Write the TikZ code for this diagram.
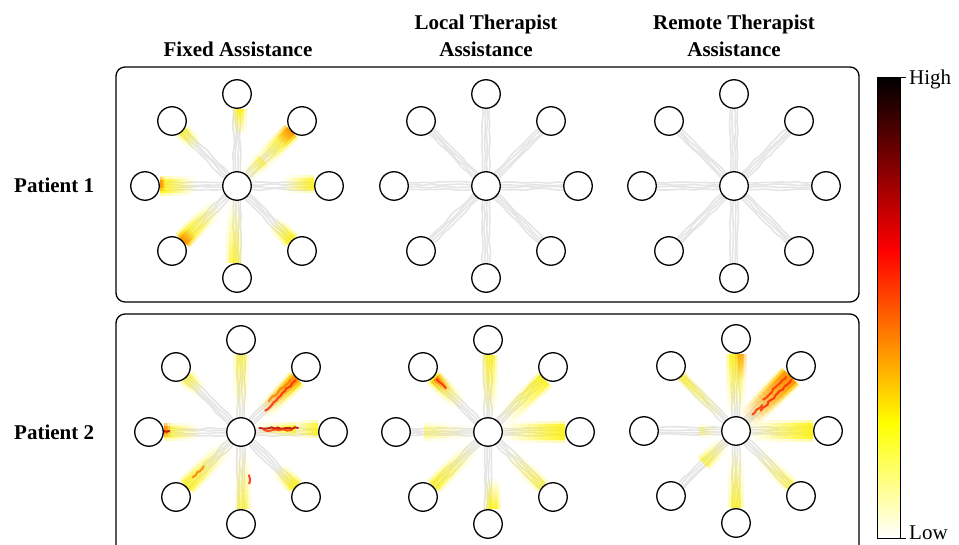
\documentclass[tikz,border=0pt]{standalone}
\usepackage{fontspec}
\setmainfont{Liberation Serif}
\usetikzlibrary{calc,backgrounds,decorations.pathmorphing}

\pgfdeclareverticalshading{hotbar}{100bp}{color(0bp)=(white); color(25bp)=(white); color(37.5bp)=(yellow); color(56.25bp)=(red); color(75bp)=(black); color(100bp)=(black)}

\tikzset{
  tgt/.style={circle, draw=black, line width=1.3pt, fill=white, minimum size=28.5pt, inner sep=0pt},
  panelbox/.style={draw=black, line width=1.3pt, rounded corners=9pt},
  traj/.style={draw=gray!20, line width=1.6pt, decorate, decoration={random steps, segment length=8pt, amplitude=1pt}, rounded corners=2pt},
  streak/.style={line width=2pt, draw opacity=0.85, decorate, decoration={random steps, segment length=3pt, amplitude=0.9pt}, line cap=round},
  ttl/.style={font=\bfseries\fontsize{21}{25}\selectfont, anchor=base, inner sep=0pt},
  lbl/.style={font=\fontsize{21}{25}\selectfont, anchor=base west, inner sep=0pt},
}

% panel of nine targets
\newcommand\mkpanel[3]{%
  \node[tgt] (#1c)  at (#2,#3) {};
  \node[tgt] (#1n)  at ($(#1c)+(0,-92)$) {};
  \node[tgt] (#1s)  at ($(#1c)+(0,92)$) {};
  \node[tgt] (#1e)  at ($(#1c)+(92,0)$) {};
  \node[tgt] (#1w)  at ($(#1c)+(-92,0)$) {};
  \node[tgt] (#1ne) at ($(#1c)+(65,-65)$) {};
  \node[tgt] (#1nw) at ($(#1c)+(-65,-65)$) {};
  \node[tgt] (#1se) at ($(#1c)+(65,65)$) {};
  \node[tgt] (#1sw) at ($(#1c)+(-65,65)$) {};
}
% bundle of trajectories from centre to a target
\newcommand\trajs[2]{%
  \foreach \off in {-3.5,-1.2,1.2,3.5}{%
    \draw[traj] ($($(#1)!15pt!(#2)$)!\off pt!90:(#2)$) -- ($($(#2)!15pt!(#1)$)!\off pt!-90:(#1)$);
  }}
\newcommand\alltrajs[1]{%
  \foreach \d in {n,ne,e,se,s,sw,w,nw}{\trajs{#1c}{#1\d}}}
% heat band: centre, target, t1, t2, half width, offset, colour, max opacity
\newcommand\hbcore[8]{%
  \foreach \i in {0,...,11}{%
    \pgfmathsetmacro\ta{#3+(#4-#3)*\i/12}%
    \pgfmathsetmacro\tb{#3+(#4-#3)*(\i+1)/12}%
    \pgfmathsetmacro\op{#8*((\i+1)/12)^1.3}%
    \pgfmathsetmacro\ea{#6+#5}%
    \pgfmathsetmacro\eb{#6-#5}%
    \coordinate (pa) at ($(#1)!\ta!(#2)$);
    \coordinate (pb) at ($(#1)!\tb!(#2)$);
    \fill[#7, fill opacity=\op] ($(pa)!\ea pt!90:(#2)$) -- ($(pb)!\ea pt!90:(#2)$) -- ($(pb)!\eb pt!90:(#2)$) -- ($(pa)!\eb pt!90:(#2)$) -- cycle;
  }}
% soft band: a wide faint halo plus the core
\newcommand\hb[8]{%
  \pgfmathsetmacro\hw{#5+3}%
  \hbcore{#1}{#2}{#3}{#4}{\hw}{#6}{#7}{#8*0.35}%
  \hbcore{#1}{#2}{#3}{#4}{#5}{#6}{#7}{#8*0.75}}
% hot streak: centre, target, t1, t2, offset, colour
\newcommand\stk[6]{%
  \draw[streak, #6] ($($(#1)!#3!(#2)$)!#5pt!90:(#2)$) -- ($($(#1)!#4!(#2)$)!#5pt!90:(#2)$);}

\begin{document}
\begin{tikzpicture}[x=1pt, y=-1pt]
\pgfmathsetseed{7}
\useasboundingbox (0,0) rectangle (959,545);

% titles
\node[ttl] (t1)  at (238,57) {Fixed Assistance};
\node[ttl] (t2a) at (486,30) {Local Therapist};
\node[ttl] (t2b) at (486,57) {Assistance};
\node[ttl] (t3a) at (734,30) {Remote Therapist};
\node[ttl] (t3b) at (734,57) {Assistance};
\node[ttl, anchor=base west] (p1) at (14,193) {Patient 1};
\node[ttl, anchor=base west] (p2) at (14,439) {Patient 2};

% panel frames
\draw[panelbox] (116,67) rectangle (859,302);
\draw[panelbox] (116,314) rectangle (859,565);

% targets
\mkpanel{A}{237}{186}
\mkpanel{B}{486}{186}
\mkpanel{C}{734}{186}
\mkpanel{D}{241}{432}
\mkpanel{E}{488}{432}
\mkpanel{F}{736}{431}

\begin{pgfonlayer}{background}
  \alltrajs{A}\alltrajs{B}\alltrajs{C}\alltrajs{D}\alltrajs{E}\alltrajs{F}

  % Patient 1, fixed assistance
  \hb{Ac}{An}{0.55}{0.84}{4}{-3}{yellow}{0.9}
  \hb{Ac}{Ane}{0.3}{0.84}{7}{0}{yellow}{1}
  \hb{Ac}{Ane}{0.66}{0.84}{5}{1}{orange}{0.9}
  \hb{Ac}{Ae}{0.5}{0.84}{6}{2}{yellow}{0.9}
  \hb{Ac}{Ase}{0.55}{0.84}{6}{0}{yellow}{0.9}
  \hb{Ac}{As}{0.15}{0.84}{5}{-3}{yellow}{0.7}
  \hb{Ac}{Asw}{0.3}{0.84}{7}{0}{yellow}{1}
  \hb{Ac}{Asw}{0.7}{0.84}{5}{1}{orange}{0.95}
  \hb{Ac}{Aw}{0.45}{0.84}{7}{0}{yellow}{1}
  \hb{Ac}{Aw}{0.78}{0.84}{4}{-2}{orange}{0.6}
  \hb{Ac}{Anw}{0.6}{0.84}{5}{0}{yellow}{0.7}
  \hb{Ac}{Ane}{0.12}{0.4}{5}{0}{yellow}{0.5}

  % Patient 2, fixed assistance
  \hb{Dc}{Dn}{0.2}{0.84}{5}{0}{yellow}{0.55}
  \hb{Dc}{Dne}{0.3}{0.84}{7}{-2}{yellow}{1}
  \hb{Dc}{Dne}{0.35}{0.84}{4}{-1}{orange}{0.9}
  \hb{Dc}{De}{0.55}{0.84}{6}{3}{yellow}{0.9}
  \hb{Dc}{De}{0.15}{0.6}{4}{3}{yellow}{0.8}
  \hb{Dc}{Dse}{0.55}{0.84}{6}{0}{yellow}{0.9}
  \hb{Dc}{Ds}{0.2}{0.84}{5}{2}{yellow}{0.6}
  \hb{Dc}{Dsw}{0.2}{0.84}{7}{0}{yellow}{0.8}
  \hb{Dc}{Dw}{0.45}{0.84}{6}{0}{yellow}{0.8}
  \hb{Dc}{Dw}{0.76}{0.84}{4}{-2}{orange}{1}
  \hb{Dc}{Dnw}{0.6}{0.84}{6}{0}{yellow}{0.6}

  % Patient 2, local therapist
  \hb{Ec}{En}{0.2}{0.84}{5}{-2}{yellow}{0.8}
  \hb{Ec}{Ene}{0.2}{0.84}{7}{-3}{yellow}{0.85}
  \hb{Ec}{Ee}{0.15}{0.84}{8}{0}{yellow}{0.95}
  \hb{Ec}{Ese}{0.3}{0.84}{5}{0}{yellow}{0.55}
  \hb{Ec}{Es}{0.5}{0.84}{5}{5}{yellow}{0.9}
  \hb{Ec}{Esw}{0.2}{0.84}{6}{0}{yellow}{0.75}
  \hb{Ec}{Ew}{0.2}{0.7}{6}{0}{yellow}{0.4}
  \hb{Ec}{Enw}{0.4}{0.84}{6}{0}{yellow}{0.9}
  \hb{Ec}{Enw}{0.62}{0.82}{3}{-1}{orange}{1}

  % Patient 2, remote therapist
  \hb{Fc}{Fn}{0.2}{0.84}{7}{0}{yellow}{0.9}
  \hb{Fc}{Fn}{0.55}{0.84}{3}{-5}{orange}{0.65}
  \hb{Fc}{Fne}{0.15}{0.84}{10}{0}{yellow}{1}
  \hb{Fc}{Fne}{0.15}{0.84}{8}{0}{orange}{0.95}
  \hb{Fc}{Fe}{0.15}{0.84}{8}{0}{yellow}{1}
  \hb{Fc}{Fse}{0.3}{0.84}{5}{0}{yellow}{0.5}
  \hb{Fc}{Fs}{0.2}{0.84}{5}{0}{yellow}{0.75}
  \hb{Fc}{Fsw}{0.15}{0.5}{6}{0}{yellow}{0.6}
  \hb{Fc}{Fw}{0.2}{0.4}{4}{0}{yellow}{0.35}
  \hb{Fc}{Fnw}{0.2}{0.84}{3}{0}{yellow}{0.7}

  % hot streaks
  \stk{Dc}{Dne}{0.35}{0.82}{-2}{red!70!orange}
  \stk{Dc}{Dne}{0.45}{0.78}{2}{orange}
  \stk{Dc}{De}{0.2}{0.62}{4}{red!70!black}
  \stk{Dc}{De}{0.25}{0.55}{2}{red!60!orange}
  \stk{Dc}{Ds}{0.47}{0.56}{8}{red!70!orange}
  \stk{Dc}{Dsw}{0.55}{0.72}{-2}{orange}
  \stk{Dc}{Dw}{0.78}{0.84}{-1}{red!80!black}
  \stk{Ec}{Enw}{0.66}{0.8}{-1}{red!70!orange}
  \stk{Fc}{Fne}{0.35}{0.82}{-3}{red!70!orange}
  \stk{Fc}{Fne}{0.45}{0.8}{3}{red!60!orange}
  \stk{Fc}{Fne}{0.25}{0.4}{0}{red!60!orange}
\end{pgfonlayer}

% colour bar
\node[draw=black, line width=1pt, shade, shading=hotbar, minimum width=23pt, minimum height=460pt, inner sep=0pt] (cbar) at (888.5,308) {};
\draw[line width=1pt] (cbar.north east) -- ++(5,0);
\draw[line width=1pt] (cbar.south east) -- ++(5,0);
\node[lbl] (hi) at (909,85) {High};
\node[lbl] (lo) at (909,539) {Low};
\end{tikzpicture}
\end{document}
